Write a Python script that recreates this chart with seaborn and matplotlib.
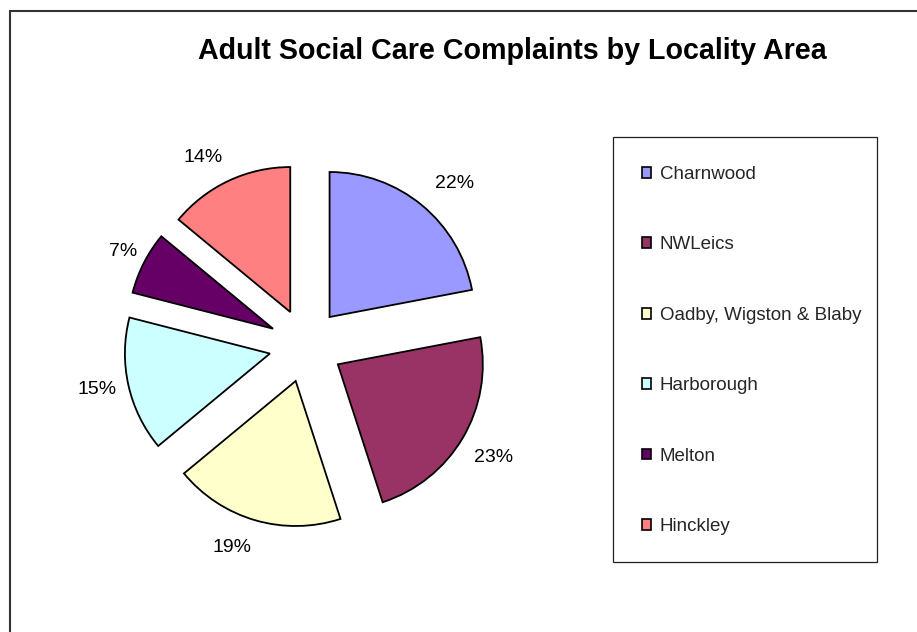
import matplotlib
matplotlib.use("Agg")
import matplotlib.pyplot as plt
from matplotlib.patches import Patch, Rectangle
from matplotlib.lines import Line2D
import seaborn as sns

# Complaint shares by locality (percent)
areas = ["Charnwood", "NWLeics", "Oadby, Wigston & Blaby", "Harborough", "Melton", "Hinckley"]
shares = [22, 23, 19, 15, 7, 14]
slice_colors = ["#9999FF", "#993366", "#FFFFCC", "#CCFFFF", "#660066", "#FF8080"]
title = "Adult Social Care Complaints by Locality Area"

# percentage label anchors, in pixels from the top-left corner
label_px = [(455, 182), (494, 456), (232, 546), (97, 388), (123, 249), (203, 156)]

sns.set_theme(style="white")
plt.rcParams["font.family"] = ["Liberation Sans", "DejaVu Sans"]

W, H = 917, 632
fig = plt.figure(figsize=(W / 100, H / 100), dpi=100)
fig.patch.set_facecolor("white")

# pie geometry in pixels
cx, cy, rad, half = 306, 345.5, 145, 240
ax = fig.add_axes([(cx - half) / W, (H - cy - half) / H, 2 * half / W, 2 * half / H])
palette = sns.color_palette(slice_colors)
wedges, texts, pcts = ax.pie(
    shares,
    colors=palette,
    explode=[0.255] * len(shares),
    startangle=90,
    counterclock=False,
    autopct="%1.0f%%",
    pctdistance=1.24,
    wedgeprops=dict(edgecolor="black", linewidth=1.3),
    textprops=dict(fontsize=14, color="black"),
)
for t, (px, py) in zip(pcts, label_px):
    t.set_position(((px - cx) / rad, (cy - py) / rad))
    t.set_verticalalignment("center_baseline")

lim = half / rad
ax.set_xlim(-lim, lim)
ax.set_ylim(-lim, lim)
ax.set_aspect("equal")
ax.axis("off")

fig.text(512 / W, 1 - 58.7 / H, title, ha="center", va="baseline",
         fontsize=20.6, fontweight="bold", color="black")

# legend frame
fig.patches.append(Rectangle((613 / W, 1 - 562 / H), 264 / W, 425 / H,
                             transform=fig.transFigure, fill=False,
                             edgecolor="#202020", linewidth=0.9))

handles = [Patch(facecolor=c, edgecolor="black", linewidth=1.2) for c in palette]
fig.legend(handles, areas, loc="upper left",
           bbox_to_anchor=(642 / W, 1 - 166 / H),
           frameon=False, fontsize=13.5, borderpad=0, borderaxespad=0,
           handlelength=0.5, handleheight=0.5, handletextpad=0.45,
           labelspacing=2.85)

# outer chart border (top and left)
fig.add_artist(Line2D([9.5 / W, 9.5 / W], [0, 1 - 11 / H], transform=fig.transFigure,
                      color="#333333", linewidth=1.5))
fig.add_artist(Line2D([9.5 / W, 1], [1 - 11 / H, 1 - 11 / H], transform=fig.transFigure,
                      color="#333333", linewidth=1.5))

fig.savefig("out.png", dpi=100, facecolor="white")
